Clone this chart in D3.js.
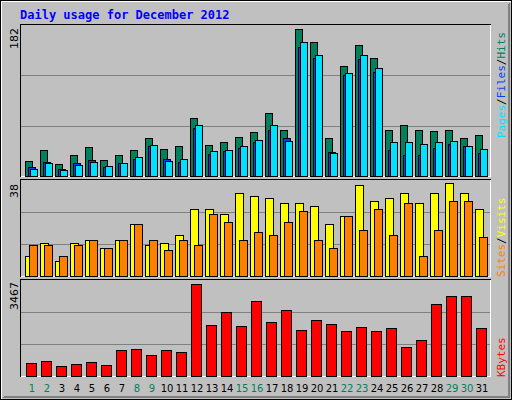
<!DOCTYPE html>
<html><head><meta charset="utf-8">
<script src="https://cdn.jsdelivr.net/npm/d3@7"></script>
<style>body{margin:0;background:#fff}svg{display:block}</style>
</head><body>
<script>
const days = d3.range(1, 32);
const weekend = [1,2,8,9,15,16,22,23,29,30];
const hits  = [18,31,14,25,35,19,25,31,46,32,36,70,37,41,47,53,76,56,177,161,46,132,158,142,56,61,56,54,56,46,50];
const files = [11,17,8,16,19,11,16,20,36,20,17,58,26,30,34,41,56,46,155,142,29,122,141,125,31,25,25,34,38,36,28];
const pages = [8,16,7,13,17,12,16,23,37,18,20,61,30,31,36,43,61,42,161,146,28,124,146,130,41,41,38,41,42,36,32];
const visits= [9,14,7,14,15,12,15,21,13,14,17,27,27,25,33,32,31,29,29,28,21,24,36,30,31,33,29,33,37,33,27];
const sites = [13,13,9,13,15,12,15,21,15,11,15,13,25,22,15,18,17,22,26,15,12,24,19,27,17,29,9,19,30,30,16];
const kbytes= [506,582,392,468,544,430,961,999,810,961,923,3467,1910,2404,1872,2821,2024,2479,1720,2100,1948,1682,1834,1682,1796,1075,1341,2707,3011,3011,1796];
const maxLabels = ["182","38","3467"];

const W=512,H=400;
const svg=d3.select("body").append("svg").attr("width",W).attr("height",H).attr("shape-rendering","crispEdges");
// background with bevel
svg.append("rect").attr("x",0.5).attr("y",0.5).attr("width",W-1).attr("height",H-1).attr("fill","#c0c0c0").attr("stroke","#000");
svg.append("path").attr("d","M1.5,398.5V1.5H510.5").attr("stroke","#fff").attr("fill","none");
svg.append("path").attr("d","M2.5,397.5H509.5V2.5").attr("stroke","#808080").attr("fill","none");
svg.append("path").attr("d","M3.5,396.5H508.5V3.5").attr("stroke","#808080").attr("fill","none");

svg.append("text").attr("x",20).attr("y",19).text("Daily usage for December 2012")
  .attr("font-family","DejaVu Sans Mono").attr("font-weight","bold").attr("font-size",12).attr("fill","#0000ff");

const x=d3.scaleBand().domain(days).range([25,490]).paddingInner(0).paddingOuter(0);
const bw=x.bandwidth(); // 15

function panel(top,bottom,max){
  const g=svg.append("g");
  const y=d3.scaleLinear().domain([0,max]).range([bottom,top]);
  // grid
  [1,2].forEach(k=>{
    const gy=Math.round(bottom-(bottom-top)*k/3)+0.5;
    g.append("line").attr("x1",21).attr("x2",490).attr("y1",gy).attr("y2",gy).attr("stroke","#808080");
  });
  g.append("path").attr("d",`M20.5,${bottom+0.5}V${top-0.5}H490.5`).attr("stroke","#000").attr("fill","none");
  g.append("path").attr("d",`M20.5,${bottom+0.5}H490.5V${top-0.5}`).attr("stroke","#fff").attr("fill","none");
  return {g,y};
}
function bars(p,data,off,w,color,bottom){
  p.g.selectAll(null).data(data).join("rect")
    .attr("x",(d,i)=>x(days[i])+off+0.5).attr("width",w)
    .attr("y",d=>Math.round(p.y(d))+0.5).attr("height",d=>Math.max(0,bottom-Math.round(p.y(d))))
    .attr("fill",color).attr("stroke","#000");
}
const p1=panel(25,176,182);
bars(p1,hits,0,7,"#00805c",176);
bars(p1,files,3,7,"#0040ff",176);
bars(p1,pages,5,7,"#00e0ff",176);
const p2=panel(180,276,38);
p2.y.range([279,180]);
bars(p2,visits,0,8,"#ffff00",276);
bars(p2,sites,4,8,"#ff8000",276);
const p3=panel(280,376,3467);
p3.y.range([376,284]);
bars(p3,kbytes,1,10,"#ff0000",376);

// max labels
[[182,28],[38,184],[3467,282]].forEach(([v,yy],i)=>{
  svg.append("text").attr("transform",`translate(18,${yy}) rotate(-90)`).attr("text-anchor","end")
   .attr("font-family","DejaVu Sans").attr("font-size",11).attr("fill","#000").text(maxLabels[i]);
});
// right legends
function legend(y0,parts){
  const t=svg.append("text").attr("transform",`translate(505,${y0}) rotate(-90)`)
    .attr("font-family","DejaVu Sans Mono").attr("font-size",11);
  parts.forEach(([s,c])=>t.append("tspan").attr("fill",c).text(s));
}
legend(138,[["Pages","#00e0ff"],["/","#000"],["Files","#0040ff"],["/","#000"],["Hits","#00805c"]]);
legend(277,[["Sites","#ff8000"],["/","#000"],["Visits","#ffff00"]]);
legend(377,[["KBytes","#ff0000"]]);

// day labels
svg.selectAll(".d").data(days).join("text")
  .attr("x",d=>x(d)+7).attr("y",392).attr("text-anchor","middle")
  .attr("font-family","DejaVu Sans").attr("font-size",10)
  .attr("fill",d=>weekend.includes(d)?"#00805c":"#000").text(d=>d);
</script>
</body></html>
